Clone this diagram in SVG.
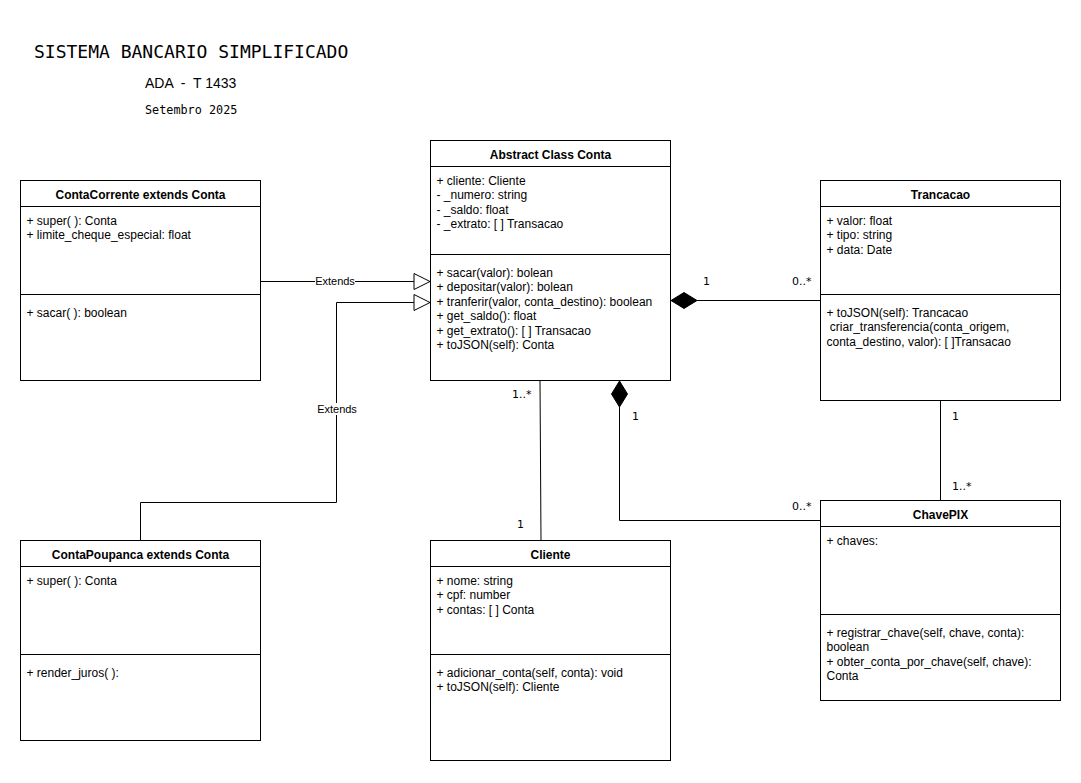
<svg xmlns="http://www.w3.org/2000/svg" width="1081" height="783" viewBox="0 0 1081 783">
<style>
.box{fill:#fff;stroke:#000;stroke-width:1}
.ln{stroke:#000;stroke-width:1;fill:none}
.hd{font-family:"Liberation Sans",Arial,sans-serif;font-size:12px;font-weight:bold;text-anchor:middle;fill:#000}
.tx{font-family:"Liberation Sans",Arial,sans-serif;font-size:12px;fill:#000}
.ml{font-family:"DejaVu Sans",sans-serif;font-size:11px;fill:#000}
.lb{font-family:"Liberation Sans",Arial,sans-serif;font-size:11px;fill:#000;text-anchor:middle}
.mono{font-family:"DejaVu Sans Mono",monospace;fill:#000}
</style>
<rect width="1081" height="783" fill="#fff"/>
<g id="title">
<text class="mono" x="34" y="58" font-size="18">SISTEMA BANCARIO SIMPLIFICADO</text>
<text x="145" y="88" font-family="Liberation Sans,Arial,sans-serif" font-size="14" xml:space="preserve">ADA  -  T 1433</text>
<text class="mono" x="145" y="114" font-size="11.8">Setembro 2025</text>
</g>
<g id="connectors">
<line class="ln" x1="260.5" y1="281.5" x2="414" y2="281.5"/>
<polygon points="414,273.5 430,281.5 414,289.5" fill="#fff" stroke="#000"/>
<rect x="315" y="275" width="40" height="12" fill="#fff"/>
<text class="lb" x="335" y="285">Extends</text>
<polyline class="ln" points="140.5,540.5 140.5,502.5 336.5,502.5 336.5,302.5 414,302.5"/>
<polygon points="414,294.5 430,302.5 414,310.5" fill="#fff" stroke="#000"/>
<rect x="316" y="403" width="42" height="12" fill="#fff"/>
<text class="lb" x="337" y="413">Extends</text>
<line class="ln" x1="697" y1="300.5" x2="820.5" y2="300.5"/>
<polygon points="671,300.5 684,292.5 697,300.5 684,308.5" fill="#000" stroke="#000"/>
<text class="ml" x="703" y="285">1</text>
<text class="ml" x="792" y="285">0..*</text>
<polyline class="ln" points="619.5,407 619.5,520.5 820.5,520.5"/>
<polygon points="619.5,381 627.5,394 619.5,407 611.5,394" fill="#000" stroke="#000"/>
<text class="ml" x="632" y="420">1</text>
<text class="ml" x="792" y="510">0..*</text>
<line class="ln" x1="540" y1="380.5" x2="541" y2="540.5"/>
<text class="ml" x="512" y="398">1..*</text>
<text class="ml" x="517" y="528">1</text>
<line class="ln" x1="940.5" y1="400.5" x2="940.5" y2="500.5"/>
<text class="ml" x="952" y="420">1</text>
<text class="ml" x="952" y="490">1..*</text>
</g>
<g id="ContaCorrente">
<rect class="box" x="20.5" y="180.5" width="240" height="200"/>
<line class="ln" x1="20.5" y1="206.5" x2="260.5" y2="206.5"/>
<line class="ln" x1="20.5" y1="294.5" x2="260.5" y2="294.5"/>
<text class="hd" x="140.5" y="199">ContaCorrente extends Conta</text>
<text class="tx" x="26.5" y="225">+ super( ): Conta</text>
<text class="tx" x="26.5" y="239">+ limite_cheque_especial: float</text>
<text class="tx" x="26.5" y="317">+ sacar( ): boolean</text>
</g>
<g id="Conta">
<rect class="box" x="430.5" y="140.5" width="240" height="240"/>
<line class="ln" x1="430.5" y1="166.5" x2="670.5" y2="166.5"/>
<line class="ln" x1="430.5" y1="254.5" x2="670.5" y2="254.5"/>
<text class="hd" x="550.5" y="159">Abstract Class Conta</text>
<text class="tx" x="436.5" y="185">+ cliente: Cliente</text>
<text class="tx" x="436.5" y="199">- _numero: string</text>
<text class="tx" x="436.5" y="214">- _saldo: float</text>
<text class="tx" x="436.5" y="228">- _extrato: [ ] Transacao</text>
<text class="tx" x="436.5" y="277">+ sacar(valor): bolean</text>
<text class="tx" x="436.5" y="291">+ depositar(valor): bolean</text>
<text class="tx" x="436.5" y="306">+ tranferir(valor, conta_destino): boolean</text>
<text class="tx" x="436.5" y="320">+ get_saldo(): float</text>
<text class="tx" x="436.5" y="335">+ get_extrato(): [ ] Transacao</text>
<text class="tx" x="436.5" y="349">+ toJSON(self): Conta</text>
</g>
<g id="Trancacao">
<rect class="box" x="820.5" y="180.5" width="240" height="220"/>
<line class="ln" x1="820.5" y1="206.5" x2="1060.5" y2="206.5"/>
<line class="ln" x1="820.5" y1="294.5" x2="1060.5" y2="294.5"/>
<text class="hd" x="940.5" y="199">Trancacao</text>
<text class="tx" x="826.5" y="225">+ valor: float</text>
<text class="tx" x="826.5" y="239">+ tipo: string</text>
<text class="tx" x="826.5" y="254">+ data: Date</text>
<text class="tx" x="826.5" y="317">+ toJSON(self): Trancacao</text>
<text class="tx" x="826.5" y="331" xml:space="preserve"> criar_transferencia(conta_origem,</text>
<text class="tx" x="826.5" y="346">conta_destino, valor): [ ]Transacao</text>
</g>
<g id="ChavePIX">
<rect class="box" x="820.5" y="500.5" width="240" height="200"/>
<line class="ln" x1="820.5" y1="526.5" x2="1060.5" y2="526.5"/>
<line class="ln" x1="820.5" y1="614.5" x2="1060.5" y2="614.5"/>
<text class="hd" x="940.5" y="519">ChavePIX</text>
<text class="tx" x="826.5" y="545">+ chaves:</text>
<text class="tx" x="826.5" y="637">+ registrar_chave(self, chave, conta):</text>
<text class="tx" x="826.5" y="651">boolean</text>
<text class="tx" x="826.5" y="666">+ obter_conta_por_chave(self, chave):</text>
<text class="tx" x="826.5" y="680">Conta</text>
</g>
<g id="ContaPoupanca">
<rect class="box" x="20.5" y="540.5" width="240" height="200"/>
<line class="ln" x1="20.5" y1="566.5" x2="260.5" y2="566.5"/>
<line class="ln" x1="20.5" y1="654.5" x2="260.5" y2="654.5"/>
<text class="hd" x="140.5" y="559">ContaPoupanca extends Conta</text>
<text class="tx" x="26.5" y="585">+ super( ): Conta</text>
<text class="tx" x="26.5" y="677">+ render_juros( ):</text>
</g>
<g id="Cliente">
<rect class="box" x="430.5" y="540.5" width="240" height="220"/>
<line class="ln" x1="430.5" y1="566.5" x2="670.5" y2="566.5"/>
<line class="ln" x1="430.5" y1="654.5" x2="670.5" y2="654.5"/>
<text class="hd" x="550.5" y="559">Cliente</text>
<text class="tx" x="436.5" y="585">+ nome: string</text>
<text class="tx" x="436.5" y="599">+ cpf: number</text>
<text class="tx" x="436.5" y="614">+ contas: [ ] Conta</text>
<text class="tx" x="436.5" y="677">+ adicionar_conta(self, conta): void</text>
<text class="tx" x="436.5" y="691">+ toJSON(self): Cliente</text>
</g>
</svg>
